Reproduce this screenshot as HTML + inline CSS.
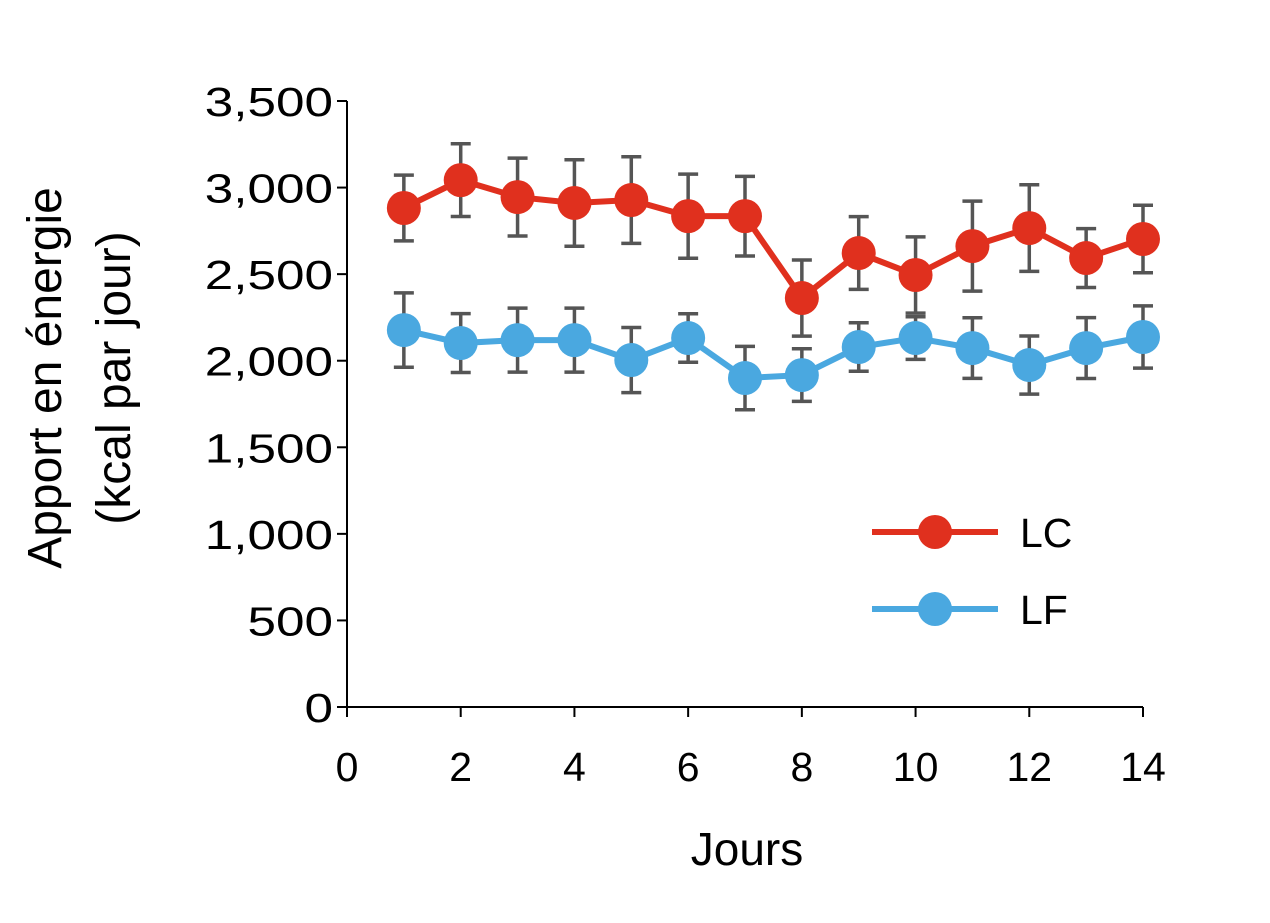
<!DOCTYPE html>
<html><head><meta charset="utf-8"><style>
body{margin:0;background:#fff;}
svg text{font-family:"Liberation Sans",Arial,sans-serif;fill:#000;}
</style></head><body>
<svg width="1270" height="918" id="chart" xmlns="http://www.w3.org/2000/svg">
<g id="axes"></g>
<g id="marks"></g>
<text x="747" y="865" font-size="46" text-anchor="middle">Jours</text>
<text transform="translate(61,378) rotate(-90)" font-size="48" text-anchor="middle">Apport en énergie</text>
<text transform="translate(130,378) rotate(-90)" font-size="48" text-anchor="middle">(kcal par jour)</text>
<g>
<line x1="872" y1="532" x2="998" y2="532" stroke="#e0301e" stroke-width="6"/>
<circle cx="935" cy="532" r="17" fill="#e0301e"/>
<text x="1020" y="547" font-size="41">LC</text>
<line x1="872" y1="609" x2="998" y2="609" stroke="#4aa8e0" stroke-width="6"/>
<circle cx="935" cy="609" r="17" fill="#4aa8e0"/>
<text x="1020" y="624" font-size="41">LF</text>
</g>
</svg>
<script>
const days=[1,2,3,4,5,6,7,8,9,10,11,12,13,14];
const lcValues=[2882,3043,2945,2911,2928,2835,2835,2362,2622,2495,2662,2766,2593,2703];
const lcErrors=[190,210,225,250,250,243,230,220,210,220,260,250,170,195];
const lfValues=[2177,2102,2119,2119,2004,2131,1900,1917,2079,2131,2073,1975,2073,2137];
const lfErrors=[215,170,185,185,188,140,183,152,140,123,175,168,176,180];
const yTicks=[0,500,1000,1500,2000,2500,3000,3500];
const yTickLabels=["0","500","1,000","1,500","2,000","2,500","3,000","3,500"];
const xTicks=[0,2,4,6,8,10,12,14];

const X0=347,X1=1143,Y0=707,Y1=101;
const xs=v=>X0+(v-0)/14*(X1-X0);
const ys=v=>Y0-(v/3500)*(Y0-Y1);
const NS="http://www.w3.org/2000/svg";
function mk(tag,attrs,parent){const e=document.createElementNS(NS,tag);for(const k in attrs)e.setAttribute(k,attrs[k]);parent.appendChild(e);return e;}
const axes=document.getElementById('axes'),marks=document.getElementById('marks');
let e=mk('line',{x1:X0,y1:Y1,x2:X0,y2:Y0,stroke:'#000','stroke-width':2},axes);


e=mk('line',{x1:X0,y1:Y0,x2:X1,y2:Y0,stroke:'#000','stroke-width':2},axes);


yTicks.forEach((v,i)=>{
  const t=mk('line',{x1:X0-10,y1:ys(v),x2:X0,y2:ys(v),stroke:'#000','stroke-width':2},axes);
  
  
  const l=mk('text',{transform:`translate(333,${ys(v)+15}) scale(1.25,1)`,'font-size':41,'text-anchor':'end'},axes);
  l.textContent=yTickLabels[i];
  
  
});
xTicks.forEach(v=>{
  const t=mk('line',{x1:xs(v),y1:Y0,x2:xs(v),y2:Y0+10,stroke:'#000','stroke-width':2},axes);
  
  
  const l=mk('text',{x:xs(v),y:781,'font-size':41,'text-anchor':'middle'},axes);
  l.textContent=String(v);
  
  
});
function series(vals,errs,color,name){
  const g=mk('g',{},marks);
  
  
  days.forEach((d,i)=>{
    const x=xs(d),t=ys(vals[i]+errs[i]),b=ys(vals[i]-errs[i]);
    const eb=mk('path',{d:`M${x},${t}V${b}M${x-10},${t}H${x+10}M${x-10},${b}H${x+10}`,stroke:'#555','stroke-width':3.5,fill:'none'},g);
    
    
  });
  const p=mk('polyline',{points:days.map((d,i)=>xs(d)+','+ys(vals[i])).join(' '),stroke:color,'stroke-width':6,fill:'none'},g);
  
  
  days.forEach((d,i)=>{
    const c=mk('circle',{cx:xs(d),cy:ys(vals[i]),r:17,fill:color},g);
    
    
  });
}
series(lcValues,lcErrors,'#e0301e','lc');
series(lfValues,lfErrors,'#4aa8e0','lf');
</script>
</body></html>
